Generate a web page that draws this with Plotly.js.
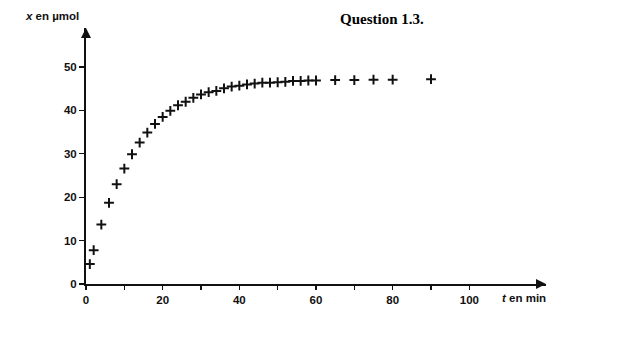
<!DOCTYPE html>
<html><head><meta charset="utf-8">
<script src="https://cdn.plot.ly/plotly-3.0.1.min.js"></script>
<style>body{margin:0;background:#fff}#c{width:618px;height:358px}</style>
</head><body><div id="c"></div>
<script>
const timeMin = [1,2,4,6,8,10,12,14,16,18,20,22,24,26,28,30,32,34,36,38,40,42,44,46,48,50,52,54,56,58,60,65,70,75,80,90];
const xMicromol = [4.6,7.8,13.7,18.7,23.0,26.6,29.9,32.6,34.9,36.9,38.5,39.9,41.2,42.0,42.9,43.7,44.2,44.5,45.1,45.5,45.7,46.0,46.2,46.4,46.4,46.5,46.6,46.8,46.8,46.9,46.9,47.0,47.0,47.1,47.1,47.2];
const xTickVals = [0,10,20,30,40,50,60,70,80,90,100];
const xTickText = ['0','','20','','40','','60','','80','','100'];
const yTickVals = [0,10,20,30,40,50];
const yTickText = ['0','10','20','30','40','50'];

const tickFont = {family:'Liberation Sans, Arial, sans-serif', size:11.5, color:'#111', weight:'bold'};

Plotly.newPlot('c', [{
  x: timeMin, y: xMicromol, type:'scatter', mode:'markers',
  marker:{symbol:'cross-thin', size:7, color:'#111', line:{color:'#111', width:2}},
  hoverinfo:'skip'
}], {
  width:618, height:358,
  margin:{l:86, r:72, t:28, b:74},
  paper_bgcolor:'#fff', plot_bgcolor:'#fff',
  showlegend:false,
  xaxis:{range:[0,120], showgrid:false, zeroline:false, showline:true, linecolor:'#111', linewidth:2,
    tickmode:'array', tickvals:xTickVals, ticktext:xTickText, ticks:'outside', ticklen:4, tickwidth:1.2, tickcolor:'#111',
    tickfont:tickFont, fixedrange:true},
  yaxis:{range:[0,59], showgrid:false, zeroline:false, showline:true, linecolor:'#111', linewidth:2,
    tickmode:'array', tickvals:yTickVals, ticktext:yTickText, ticks:'outside', ticklen:5, tickwidth:1.2, tickcolor:'#111',
    tickfont:tickFont, fixedrange:true},
  annotations:[
    {xref:'paper', yref:'paper', x:1.0, y:0, ax:-10, ay:0, showarrow:true, arrowhead:2, arrowsize:1, arrowwidth:2, arrowcolor:'#111', text:''},
    {xref:'paper', yref:'paper', x:0, y:1.0, ax:0, ay:10, showarrow:true, arrowhead:2, arrowsize:1, arrowwidth:2, arrowcolor:'#111', text:''},
    {xref:'paper', yref:'paper', x:-0.01, y:1.047, xanchor:'right', yanchor:'middle', showarrow:false,
      text:'<i>x</i> en µmol', font:{family:'Liberation Sans, Arial, sans-serif', size:11.5, color:'#111', weight:'bold'}},
    {xref:'paper', yref:'paper', x:0.90, y:-0.055, xanchor:'left', yanchor:'middle', showarrow:false,
      text:'<i>t</i> en min', font:{family:'Liberation Sans, Arial, sans-serif', size:11.5, color:'#111', weight:'bold'}},
    {xref:'paper', yref:'paper', x:0.644, y:1.035, xanchor:'center', yanchor:'middle', showarrow:false,
      text:'Question 1.3.', font:{family:'Liberation Serif, Times New Roman, serif', size:15, color:'#000', weight:'bold'}}
  ]
}, {staticPlot:true});
</script></body></html>
